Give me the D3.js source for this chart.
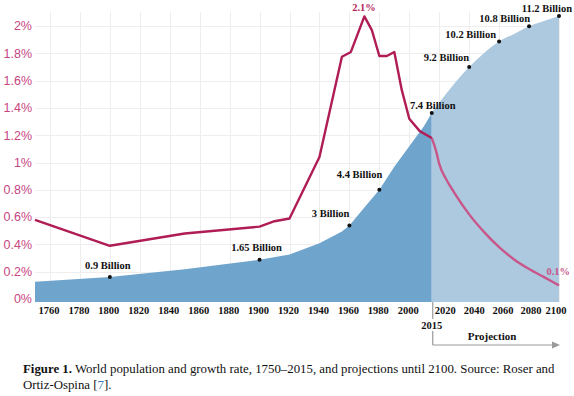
<!DOCTYPE html>
<html><head><meta charset="utf-8">
<script src="https://cdn.jsdelivr.net/npm/d3@7"></script>
<style>body{margin:0;background:#fff}svg{display:block}</style>
</head><body>
<script>
// ---- data ----
const popYearsHist = [1750,1800,1850,1900,1920,1940,1955,1960,1970,1980,1990,2000,2010,2015];
const popValsHist  = [0.79,0.98,1.28,1.65,1.86,2.3,2.76,3.0,3.7,4.4,5.3,6.1,6.9,7.4];
const popYearsProj = [2015,2020,2030,2040,2050,2060,2070,2080,2090,2100];
const popValsProj  = [7.4,7.8,8.55,9.2,9.75,10.2,10.5,10.8,11.0,11.2];
const rateYearsHist = [1750,1800,1850,1900,1910,1920,1940,1955,1961,1970,1975,1980,1985,1990,1995,2000,2007,2015];
const rateValsHist  = [0.58,0.39,0.48,0.53,0.57,0.59,1.04,1.775,1.81,2.07,1.97,1.78,1.78,1.81,1.53,1.32,1.23,1.18];
const rateYearsProj = [2015,2018,2020,2025,2030,2040,2050,2060,2070,2080,2090,2100];
const rateValsProj  = [1.18,1.08,0.99,0.87,0.78,0.62,0.49,0.38,0.29,0.22,0.16,0.1];
const popMarkYears  = [1800,1900,1960,1980,2015,2040,2060,2080,2100];
const popMarkVals   = [0.98,1.65,3.0,4.4,7.4,9.2,10.2,10.8,11.2];
const popMarkLabels = ["0.9 Billion","1.65 Billion","3 Billion","4.4 Billion","7.4 Billion","9.2 Billion","10.2 Billion","10.8 Billion","11.2 Billion"];
const xTicks = [1760,1780,1800,1820,1840,1860,1880,1900,1920,1940,1960,1980,2000,2020,2040,2060,2080,2100];
const rateTicks = [0,0.2,0.4,0.6,0.8,1,1.2,1.4,1.6,1.8,2];
const rateTickLabels = ["0%","0.2%","0.4%","0.6%","0.8%","1%","1.2%","1.4%","1.6%","1.8%","2%"];

const W=574,H=396;
const svg=d3.select("body").append("svg").attr("width",W).attr("height",H);
const x=d3.scaleLinear().domain([1750,2100]).range([35,559]);
const yPop=d3.scaleLinear().domain([0,11.2]).range([302,16]);
const yRate=d3.scaleLinear().domain([0,2]).range([299,26]);

// grid
const grid=svg.append("g").attr("stroke","#eeeeee").attr("stroke-width",1);
xTicks.forEach(t=>grid.append("line").attr("x1",Math.round(x(t))+0.5).attr("x2",Math.round(x(t))+0.5).attr("y1",12).attr("y2",302));
rateTicks.forEach(t=>grid.append("line").attr("x1",35).attr("x2",559).attr("y1",Math.round(yRate(t))+0.5).attr("y2",Math.round(yRate(t))+0.5));

// areas
const hist=popYearsHist.map((y,i)=>[y,popValsHist[i]]);
const proj=popYearsProj.map((y,i)=>[y,popValsProj[i]]);
svg.append("path").datum(hist).attr("fill","#6fa4cd")
  .attr("d",d3.area().x(d=>x(d[0])).y0(yPop(0)).y1(d=>yPop(d[1])));
svg.append("path").datum(proj).attr("fill","#adc9df")
  .attr("d",d3.area().curve(d3.curveMonotoneX).x(d=>x(d[0])).y0(yPop(0)).y1(d=>yPop(d[1])));

// rate lines
const rH=rateYearsHist.map((y,i)=>[y,rateValsHist[i]]);
const rP=rateYearsProj.map((y,i)=>[y,rateValsProj[i]]);
const ln=d3.line().x(d=>x(d[0])).y(d=>yRate(d[1]));
svg.append("path").datum(rP).attr("fill","none").attr("stroke","#c8568a").attr("stroke-width",2.4).attr("stroke-linejoin","round").attr("d",d3.line().curve(d3.curveMonotoneX).x(d=>x(d[0])).y(d=>yRate(d[1])));
svg.append("path").datum(rH).attr("fill","none").attr("stroke","#b01c55").attr("stroke-width",2.4).attr("stroke-linejoin","round").attr("d",ln);

// y axis labels
svg.append("g").selectAll("text").data(rateTicks).join("text")
  .attr("x",32).attr("y",d=>yRate(d)).attr("dy","0.35em").attr("text-anchor","end")
  .attr("font-family","Liberation Sans, Arial, sans-serif").attr("font-size",12.5).attr("fill","#c8457f")
  .text((d,i)=>rateTickLabels[i]);

// x axis labels (projection labels are spread out to clear the 2015 marker)
const serif="Liberation Serif, Times New Roman, serif";
const projLabelShift={2020:6,2040:5,2060:4,2080:2,2100:-3};
svg.append("g").selectAll("text").data(xTicks).join("text")
  .attr("x",d=>d>2015?x(d)+projLabelShift[d]:x(d)-1).attr("y",314)
  .attr("text-anchor","middle")
  .attr("font-family",serif).attr("font-weight","bold").attr("font-size",10.5).attr("fill","#111")
  .text(d=>d);
svg.append("text").attr("x",x(2015)).attr("y",329).attr("text-anchor","middle")
  .attr("font-family",serif).attr("font-weight","bold").attr("font-size",10.5).attr("fill","#111").text("2015");

// projection arrow
const gA=svg.append("g").attr("stroke","#999").attr("stroke-width",1.2).attr("fill","none");
gA.append("line").attr("x1",x(2015)+1).attr("x2",x(2015)+1).attr("y1",302).attr("y2",319);
gA.append("line").attr("x1",x(2015)+1).attr("x2",x(2015)+1).attr("y1",331).attr("y2",345);
gA.append("line").attr("x1",x(2015)+1).attr("x2",553).attr("y1",345).attr("y2",345);
svg.append("path").attr("d","M552,341.5L560,345L552,348.5Z").attr("fill","#999");
svg.append("text").attr("x",492).attr("y",340).attr("text-anchor","middle")
  .attr("font-family",serif).attr("font-weight","bold").attr("font-size",11).attr("fill","#111").text("Projection");

// population markers + labels
const labelPos=[ // anchor, dx, dy
  ["middle",-2,-8],["middle",-3,-9],["end",0,-8],["end",3,-12],["middle",1,-4],["end",0,-6],["end",-3,-4],["end",1,-4],["end",13,-4]];
popMarkYears.forEach((yr,i)=>{
  const cx=x(yr),cy=yPop(popMarkVals[i]);
  svg.append("circle").attr("cx",cx).attr("cy",cy).attr("r",2).attr("fill","#111");
  svg.append("text").attr("x",cx+labelPos[i][1]).attr("y",cy+labelPos[i][2]).attr("text-anchor",labelPos[i][0])
    .attr("font-family",serif).attr("font-weight","bold").attr("font-size",10.5).attr("fill","#111").text(popMarkLabels[i]);
});
// rate labels
svg.append("text").attr("x",364).attr("y",11).attr("text-anchor","middle")
  .attr("font-family",serif).attr("font-weight","bold").attr("font-size",10.5).attr("fill","#b8265c").text("2.1%");
svg.append("text").attr("x",570).attr("y",275).attr("text-anchor","end")
  .attr("font-family",serif).attr("font-weight","bold").attr("font-size",10.5).attr("fill","#c8568a").text("0.1%");

// caption
const cap=svg.append("text").attr("x",23).attr("y",373).attr("font-family",serif).attr("font-size",12.85).attr("fill","#111");
cap.append("tspan").attr("font-weight","bold").text("Figure 1.");
cap.append("tspan").text(" World population and growth rate, 1750–2015, and projections until 2100. Source: Roser and");
const cap2=svg.append("text").attr("x",23).attr("y",389).attr("font-family",serif).attr("font-size",12.85).attr("fill","#111");
cap2.append("tspan").text("Ortiz-Ospina [");
cap2.append("tspan").attr("fill","#3a78b5").text("7");
cap2.append("tspan").text("].");
</script>
</body></html>
